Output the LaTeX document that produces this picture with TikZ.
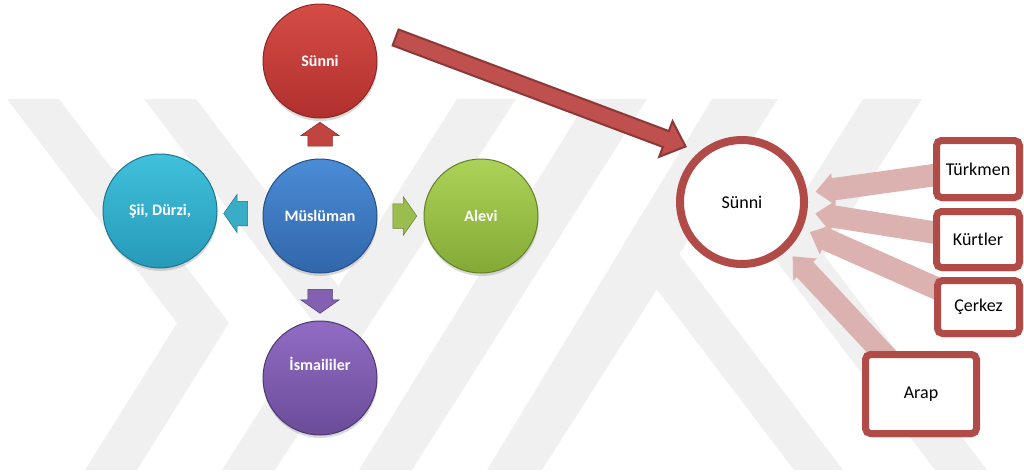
\documentclass[tikz,border=0pt]{standalone}
\usepackage{fontspec}
\setmainfont{Carlito}
\usetikzlibrary{calc,shapes.arrows,shadows,backgrounds}

\definecolor{wmgray}{RGB}{240,240,240}
\definecolor{boxred}{RGB}{177,75,72}
\definecolor{feedpink}{RGB}{220,178,177}
\definecolor{bigfill}{RGB}{192,80,77}
\definecolor{bigedge}{RGB}{140,56,54}
\definecolor{redtop}{RGB}{214,76,71}
\definecolor{redbot}{RGB}{176,48,45}
\definecolor{rededge}{RGB}{138,38,36}
\definecolor{bluetop}{RGB}{74,140,214}
\definecolor{bluebot}{RGB}{50,102,170}
\definecolor{blueedge}{RGB}{38,78,134}
\definecolor{cyantop}{RGB}{64,192,220}
\definecolor{cyanbot}{RGB}{38,154,184}
\definecolor{cyanedge}{RGB}{28,118,142}
\definecolor{greentop}{RGB}{172,210,88}
\definecolor{greenbot}{RGB}{132,170,54}
\definecolor{greenedge}{RGB}{98,128,38}
\definecolor{purptop}{RGB}{146,108,196}
\definecolor{purpbot}{RGB}{106,76,152}
\definecolor{purpedge}{RGB}{78,54,114}

\tikzset{
  ball/.style={circle, minimum size=114pt, inner sep=0pt, line width=1pt,
    text=white, font=\fontsize{16}{19}\selectfont\bfseries,
    drop shadow={opacity=.3, shadow xshift=.5pt, shadow yshift=-3pt}},
  nub/.style={single arrow, minimum height=24pt, inner xsep=0pt, inner ysep=12pt,
    single arrow head extend=7pt, single arrow tip angle=110, line width=.5pt},
  ethbox/.style={rectangle, rounded corners=5pt, draw=boxred, line width=7pt,
    fill=white, inner sep=0pt, font=\fontsize{18}{21}\selectfont,
    drop shadow={opacity=.25, shadow xshift=1pt, shadow yshift=-4pt}},
  feed/.style={single arrow, fill=feedpink, inner xsep=0pt, inner ysep=11pt,
    single arrow head extend=5pt, single arrow tip angle=84},
  bigarrow/.style={single arrow, fill=bigfill, draw=bigedge, line width=2pt,
    inner xsep=0pt, inner ysep=7.5pt, single arrow head extend=10.5pt,
    single arrow tip angle=84}
}

\begin{document}
\begin{tikzpicture}[x=1pt,y=-1pt]
\useasboundingbox (0,0) rectangle (1024,472);

% Left balls
\node[ball, top color=bluetop, bottom color=bluebot, draw=blueedge] (muslim) at (320,216) {Müslüman};
\node[ball, top color=redtop, bottom color=redbot, draw=rededge] (sunni) at (320,61) {Sünni};
\node[ball, top color=cyantop, bottom color=cyanbot, draw=cyanedge] (sii) at (160,211) {Şii, Dürzi,};
\node[ball, top color=greentop, bottom color=greenbot, draw=greenedge] (alevi) at (481,216) {Alevi};
\node[ball, top color=purptop, bottom color=purpbot, draw=purpedge, text depth=28pt] (ismaili) at (320,378) {İsmaililer};

% Small arrows out of the middle ball
\node[nub, fill=redtop!90!black, draw=rededge, rotate=90] (toup) at ($(sunni.south)!.5!(muslim.north)$) {};
\node[nub, fill=cyantop!90!black, draw=cyanedge, rotate=180] (toleft) at ($(sii.east)!.5!(muslim.west)$) {};
\node[nub, fill=greentop!90!black, draw=greenedge] (toright) at ($(muslim.east)!.5!(alevi.west)$) {};
\node[nub, fill=purptop!90!black, draw=purpedge, rotate=-90] (todown) at ($(muslim.south)!.5!(ismaili.north)$) {};

% Right circle and boxes
\node[circle, draw=boxred, line width=8pt, fill=white, minimum size=124pt, inner sep=0pt,
  font=\fontsize{18}{21}\selectfont] (sunnibig) at (742,202) {Sünni};
\node[ethbox, minimum width=83pt, minimum height=57pt] (turkmen) at (978,169) {Türkmen};
\node[ethbox, minimum width=83pt, minimum height=56pt] (kurt) at (978,239.5) {Kürtler};
\node[ethbox, minimum width=82pt, minimum height=53pt] (cerkez) at (978.5,307) {Çerkez};
\node[ethbox, minimum width=111pt, minimum height=79pt] (arap) at (921,394) {Arap};

\begin{scope}[on background layer]
% Watermark bands
\fill[wmgray] (7,99) -- (59,99) -- (229,323) -- (137,470) -- (85,470) -- (177,323) -- cycle;
\fill[wmgray] (144,99) -- (196,99) -- (368.5,326) -- (344.5,363) -- cycle;
\fill[wmgray] (457,99) -- (516,99) -- (275,470) -- (222,470) -- cycle;
\fill[wmgray] (588,99) -- (647,99) -- (412,470) -- (359,470) -- cycle;
\fill[wmgray] (712,99) -- (778,99) -- (542,470) -- (487,470) -- cycle;
\fill[wmgray] (794,470) -- (843,470) -- (645,209) -- (623,245) -- cycle;
\fill[wmgray] (863,99) -- (922,99) -- (824,255) -- (987,470) -- (935,470) -- (768,250) -- cycle;

% Pink arrows into the right circle
\foreach \b in {turkmen,kurt,cerkez,arap}
\path let \p1=($(sunnibig)!74pt!(\b)$), \p2=($(\p1)-(\b)$),
  \n1={atan2(\y2,\x2)}, \n2={veclen(\x2,\y2)} in
  node[feed, rotate=\n1, minimum height=\n2, anchor=tip] (\b-feed) at (\p1) {};
\end{scope}

% Big arrow
\coordinate (bigtail) at (397,38);
\coordinate (bigtip) at ($(sunnibig)+(-55,-55)$);
\path let \p1=($(bigtip)-(bigtail)$), \n1={atan2(\y1,\x1)}, \n2={veclen(\x1,\y1)} in
  node[bigarrow, rotate=\n1, minimum height=\n2, anchor=tip] (big) at (bigtip) {};

\end{tikzpicture}
\end{document}
